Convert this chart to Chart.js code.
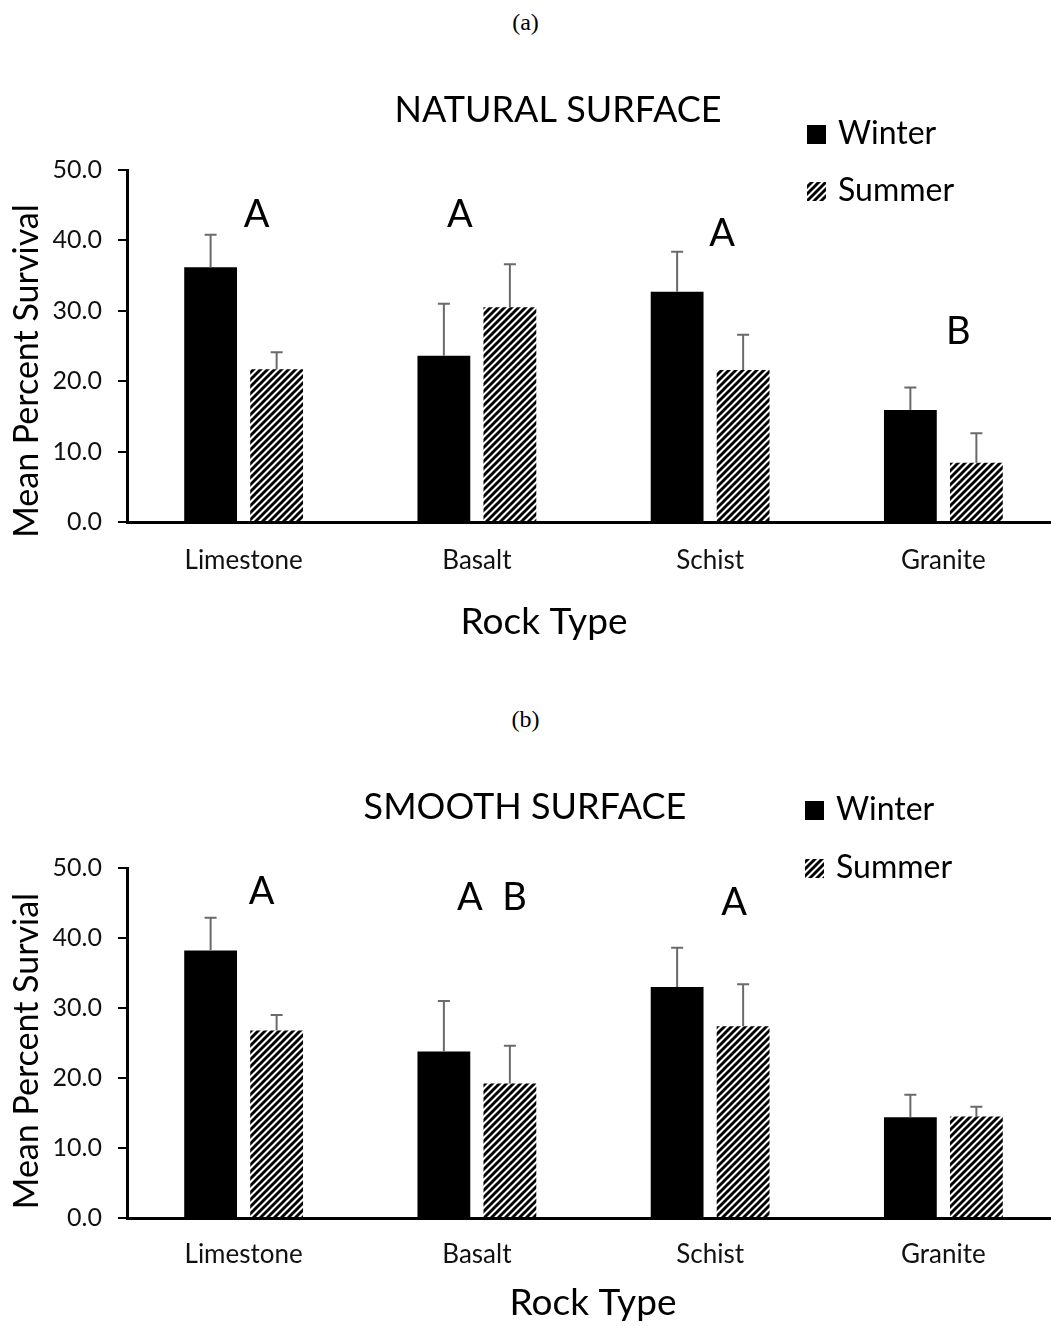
<!DOCTYPE html>
<html>
<head>
<meta charset="utf-8">
<script src="https://cdn.jsdelivr.net/npm/chart.js@4.4.1/dist/chart.umd.min.js"></script>
<style>
  html, body { margin: 0; padding: 0; background: #fff; overflow: hidden; }
  body { position: relative; width: 1051px; height: 1326px; }
  .tag { position: absolute; left: 0; width: 1051px; text-align: center;
         font-family: "Liberation Serif", serif; font-size: 24px; color: #000; }
  canvas { position: absolute; left: 0; }
</style>
</head>
<body>
<div class="tag" style="top:9px">(a)</div>
<canvas id="natural" width="1065" height="610" style="top:70px"></canvas>
<div class="tag" style="top:706px">(b)</div>
<canvas id="smooth" width="1065" height="576" style="top:750px"></canvas>

<script>
const rockTypes = ["Limestone", "Basalt", "Schist", "Granite"];
const yTicks = [0, 10, 20, 30, 40, 50];
const seasons = ["Winter", "Summer"];

// (a) natural surface
const naturalWinter = [36.2, 23.6, 32.7, 15.9];
const naturalSummer = [21.7, 30.5, 21.6, 8.4];
const naturalWinterErr = [4.6, 7.4, 5.7, 3.2];
const naturalSummerErr = [2.4, 6.1, 5.0, 4.2];
const naturalLetters = ["A", "A", "A", "B"];
const naturalLetterLevels = [43.6, 43.6, 41.0, 27.0];

// (b) smooth surface
const smoothWinter = [38.2, 23.8, 33.0, 14.4];
const smoothSummer = [26.8, 19.2, 27.4, 14.5];
const smoothWinterErr = [4.7, 7.2, 5.6, 3.2];
const smoothSummerErr = [2.2, 5.4, 6.0, 1.4];
const smoothLetters = ["A", "A  B", "A", ""];
const smoothLetterLevels = [46.6, 45.8, 45.0, 0];

const FONT = "Lato";

function makeHatch(ctx){
    const n = 7;
    const c = document.createElement("canvas");
    c.width = n; c.height = n;
    const g = c.getContext("2d");
    g.fillStyle = "#fff";
    g.fillRect(0, 0, n, n);
    g.strokeStyle = "#000";
    g.lineWidth = 2.9;
    g.beginPath();
    g.moveTo(-1, n + 1); g.lineTo(n + 1, -1);
    g.moveTo(-1, 1); g.lineTo(1, -1);
    g.moveTo(n - 1, n + 1); g.lineTo(n + 1, n - 1);
    g.stroke();
    return ctx.createPattern(c, "repeat");
}

// error bars, letters, legend and titles
const extras = {
    id: "extras",
    afterDraw(chart, args, opts){
        const ctx = chart.ctx;
        const xs = chart.scales.x, ys = chart.scales.y;
        ctx.save();

        // error bars (upper only)
        chart.data.datasets.forEach((ds, d) => {
            chart.getDatasetMeta(d).data.forEach((bar, i) => {
                const top = ys.getPixelForValue(ds.data[i] + ds.errorBars[i]);
                ctx.strokeStyle = "#6a6a6a";
                ctx.lineWidth = 2;
                ctx.beginPath();
                ctx.moveTo(bar.x, bar.y);
                ctx.lineTo(bar.x, top);
                ctx.moveTo(bar.x - 6, top);
                ctx.lineTo(bar.x + 6, top);
                ctx.stroke();
            });
        });

        ctx.fillStyle = "#000";
        ctx.textAlign = "center";
        ctx.textBaseline = "middle";

        // significance letters
        ctx.font = "38px " + FONT;
        opts.letters.forEach((t, i) => {
            if (!t) return;
            ctx.fillText(t, xs.getPixelForValue(i) + opts.nudge[i], ys.getPixelForValue(opts.levels[i]));
        });

        // chart title
        ctx.font = "36px " + FONT;
        ctx.fillText(opts.title, opts.titleX, opts.titleY);

        // x axis title
        ctx.font = "37px " + FONT;
        ctx.fillText("Rock Type", opts.xTitleX, opts.xTitleY);

        // y axis title
        ctx.save();
        ctx.translate(opts.yTitleX, opts.yTitleY);
        ctx.rotate(-Math.PI / 2);
        ctx.font = "34px " + FONT;
        ctx.fillText(opts.yTitle, 0, 0);
        ctx.restore();

        // legend
        ctx.textAlign = "left";
        ctx.textBaseline = "alphabetic";
        ctx.font = "32px " + FONT;
        chart.data.datasets.forEach((ds, d) => {
            const y = opts.legendY + d * opts.legendGap;
            ctx.fillStyle = ds.backgroundColor;
            ctx.fillRect(opts.legendX, y, 19, 19);
            ctx.fillStyle = "#000";
            ctx.fillText(ds.label, opts.legendX + 31, y + 19);
        });

        ctx.restore();
    }
};

function drawPanel(id, winter, summer, winterErr, summerErr, extrasOpts, plotTop, xAxisHeight, labelPad){
    const canvas = document.getElementById(id);
    const ctx = canvas.getContext("2d");
    const hatch = makeHatch(ctx);

    new Chart(canvas, {
        type: "bar",
        data: {
            labels: rockTypes,
            datasets: [
                { label: seasons[0], data: winter, errorBars: winterErr, backgroundColor: "#000",
                  categoryPercentage: 0.566, barPercentage: 0.8 },
                { label: seasons[1], data: summer, errorBars: summerErr, backgroundColor: hatch,
                  categoryPercentage: 0.566, barPercentage: 0.8 }
            ]
        },
        plugins: [extras],
        options: {
            responsive: false,
            animation: false,
            events: [],
            layout: { padding: { top: plotTop, right: 5, left: 0, bottom: 0 } },
            plugins: {
                legend: { display: false },
                title: { display: false },
                tooltip: { enabled: false },
                extras: extrasOpts
            },
            scales: {
                x: {
                    grid: { display: false, drawTicks: false },
                    border: { display: true, color: "#000", width: 3 },
                    ticks: { color: "#111", font: { family: FONT, size: 26 }, padding: labelPad, maxRotation: 0 },
                    afterFit: s => { s.height = xAxisHeight; }
                },
                y: {
                    min: 0,
                    max: 50,
                    afterBuildTicks: s => { s.ticks = yTicks.map(v => ({ value: v })); },
                    grid: { display: true, drawOnChartArea: false, drawTicks: true, tickLength: 9, color: "#000", lineWidth: 2 },
                    border: { display: true, color: "#000", width: 3 },
                    ticks: { color: "#111", font: { family: FONT, size: 25 }, padding: 16,
                             callback: v => Number(v).toFixed(1) },
                    afterFit: s => { s.width = 127; }
                }
            }
        }
    });
}

drawPanel("natural", naturalWinter, naturalSummer, naturalWinterErr, naturalSummerErr, {
    title: "NATURAL SURFACE", titleX: 558, titleY: 40,
    yTitle: "Mean Percent Survival", yTitleX: 27, yTitleY: 301,
    xTitleX: 544, xTitleY: 552,
    legendX: 807, legendY: 55, legendGap: 57,
    letters: naturalLetters, levels: naturalLetterLevels, nudge: [13, -17, 12, 15]
}, 100, 158, 23);

drawPanel("smooth", smoothWinter, smoothSummer, smoothWinterErr, smoothSummerErr, {
    title: "SMOOTH SURFACE", titleX: 525, titleY: 57,
    yTitle: "Mean Percent Survial", yTitleX: 27, yTitleY: 301,
    xTitleX: 593, xTitleY: 553,
    legendX: 805, legendY: 51, legendGap: 58,
    letters: smoothLetters, levels: smoothLetterLevels, nudge: [18, 15, 24, 0]
}, 118, 108, 21);
</script>
</body>
</html>
